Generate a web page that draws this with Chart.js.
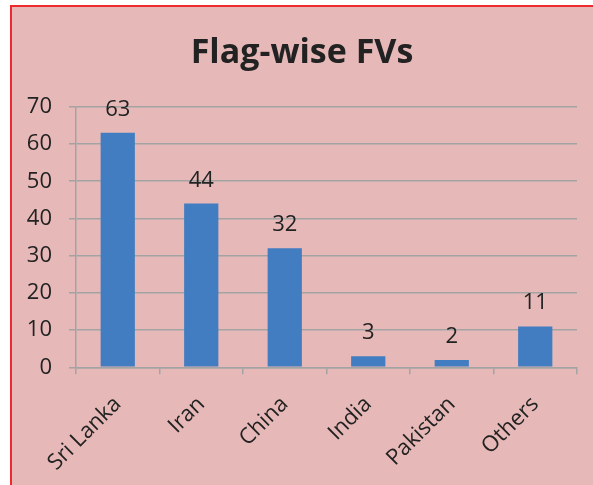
<!DOCTYPE html>
<html>
<head>
<meta charset="utf-8">
<script src="https://cdn.jsdelivr.net/npm/chart.js@4.4.1/dist/chart.umd.min.js"></script>
<style>
  html, body { margin: 0; padding: 0; background: #fff; }
  #box {
    position: absolute; left: 10px; top: 5px; width: 581px; height: 478px;
    background: #E6B9B8; border-left: 2px solid #EE2A2F; border-top: 2px solid #EE2A2F;
  }
</style>
</head>
<body>
<div id="box"><canvas id="flagChart"></canvas></div>
<script>

const countries = ['Sri Lanka', 'Iran', 'China', 'India', 'Pakistan', 'Others']
const vessels = [63, 44, 32, 3, 2, 11]
const yTicks = [0, 10, 20, 30, 40, 50, 60, 70]

const fontName = '"Open Sans", sans-serif'

// draw the value above each bar
const valueLabels = {
    id: 'valueLabels',
    afterDatasetsDraw(chart) {
        const ctx = chart.ctx
        const meta = chart.getDatasetMeta(0)
        ctx.save()
        ctx.font = '22px ' + fontName
        ctx.fillStyle = '#222'
        ctx.textAlign = 'center'
        ctx.textBaseline = 'alphabetic'
        meta.data.forEach(function(bar, i) {
            ctx.fillText(vessels[i], bar.x, bar.y - 17)
        })
        ctx.restore()
    }
}

function drawFlagChart() {
    const canvas = document.getElementById('flagChart')
    new Chart(canvas, {
        type: 'bar',
        data: {
            labels: countries,
            datasets: [{
                label: 'FVs',
                data: vessels,
                backgroundColor: '#417DC0',
                barPercentage: 0.41,
                categoryPercentage: 1
            }]
        },
        options: {
            responsive: true,
            maintainAspectRatio: false,
            animation: false,
            layout: { padding: { left: 15, right: 16, top: 0, bottom: -8 } },
            plugins: {
                legend: { display: false },
                tooltip: { enabled: false },
                title: {
                    display: true,
                    text: 'Flag-wise FVs',
                    color: '#222',
                    font: { family: fontName, size: 34, weight: 'bold' },
                    padding: { top: 26, bottom: 33 }
                }
            },
            scales: {
                y: {
                    min: 0,
                    max: 70,
                    afterBuildTicks: function(axis) {
                        axis.ticks = yTicks.map(function(v) { return { value: v } })
                    },
                    // the tick padding gets counted twice, take one off
                    afterFit: function(axis) { axis.width = 49 },
                    grid: { color: '#A3A3A3', lineWidth: 1.5, tickLength: 7 },
                    border: { color: '#A3A3A3', width: 1.5 },
                    ticks: { color: '#222', padding: 17, font: { family: fontName, size: 22 } }
                },
                x: {
                    grid: { display: true, drawOnChartArea: false, color: '#A3A3A3', lineWidth: 1.5, tickLength: 7 },
                    border: { color: '#A3A3A3', width: 1.5 },
                    ticks: {
                        color: '#222',
                        maxRotation: 45,
                        minRotation: 45,
                        padding: 17,
                        font: { family: fontName, size: 22 }
                    },
                    afterFit: function(axis) {
                        // rotated labels may run left of the plot, as in the original
                        axis.paddingLeft = 0
                        axis.paddingRight = 0
                    }
                }
            }
        },
        plugins: [valueLabels]
    })
}

drawFlagChart()
</script>
</body>
</html>
